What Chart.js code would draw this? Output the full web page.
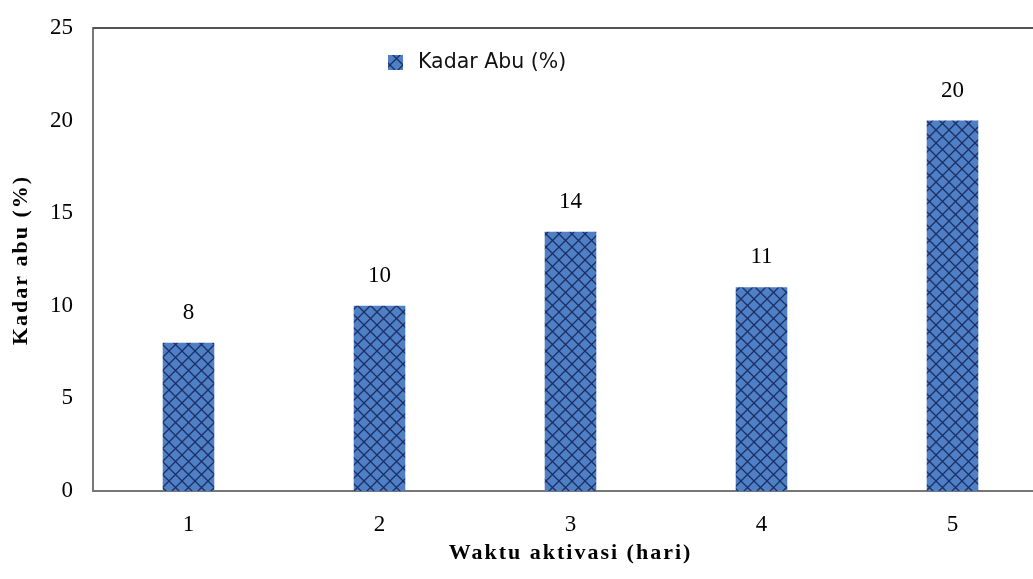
<!DOCTYPE html>
<html>
<head>
<meta charset="utf-8">
<script src="https://cdn.jsdelivr.net/npm/chart.js@4/dist/chart.umd.min.js"></script>
<style>
  html, body { margin: 0; padding: 0; background: #fff; overflow: hidden; }
  #wrap { width: 1050px; height: 579px; }
</style>
</head>
<body>
<div id="wrap"><canvas id="chart" width="1050" height="579"></canvas></div>
<script>
const days = ["1", "2", "3", "4", "5"];
const ashValues = [8, 10, 14, 11, 20];
const seriesName = "Kadar Abu (%)";
const xTitle = "Waktu aktivasi (hari)";
const yTitle = "Kadar abu (%)";

// crosshatch fill like the office pattern
function makeHatch() {
    const size = 13;
    const c = document.createElement("canvas");
    c.width = size;
    c.height = size;
    const g = c.getContext("2d");
    g.fillStyle = "#4f7fc4";
    g.fillRect(0, 0, size, size);
    g.strokeStyle = "#1b2f66";
    g.lineWidth = 1.3;
    g.beginPath();
    g.moveTo(0, 0); g.lineTo(size, size);
    g.moveTo(size, 0); g.lineTo(0, size);
    g.stroke();
    return g.createPattern(c, "repeat");
}
const hatch = makeHatch();

const extras = {
    id: "extras",
    afterDatasetsDraw(chart) {
        const ctx = chart.ctx;
        const area = chart.chartArea;
        ctx.save();
        // top frame line
        ctx.strokeStyle = "#555";
        ctx.lineWidth = 2;
        ctx.beginPath();
        ctx.moveTo(area.left, area.top);
        ctx.lineTo(area.right, area.top);
        ctx.stroke();
        // value labels
        ctx.fillStyle = "#000";
        ctx.font = "23px 'Liberation Serif'";
        ctx.textAlign = "center";
        ctx.textBaseline = "middle";
        chart.getDatasetMeta(0).data.forEach((bar, i) => {
            ctx.fillText(ashValues[i], bar.x, bar.y - 30);
        });
        // legend
        ctx.fillStyle = hatch;
        ctx.fillRect(388, 55, 15, 15);
        ctx.fillStyle = "#111";
        ctx.font = "20.5px 'DejaVu Sans'";
        ctx.textAlign = "left";
        ctx.fillText(seriesName, 418, 63);
        // axis titles
        ctx.fillStyle = "#000";
        ctx.font = "bold 22px 'Liberation Serif'";
        ctx.letterSpacing = "2px";
        ctx.textAlign = "center";
        ctx.fillText(xTitle, (area.left + area.right) / 2, 553);
        ctx.translate(21, 260);
        ctx.rotate(-Math.PI / 2);
        ctx.fillText(yTitle, 0, 0);
        ctx.restore();
    }
};

const tickFont = { family: "Liberation Serif", size: 23 };

new Chart(document.getElementById("chart"), {
    type: "bar",
    data: {
        labels: days,
        datasets: [{
            label: seriesName,
            data: ashValues,
            backgroundColor: hatch,
            barPercentage: 0.27,
            categoryPercentage: 1
        }]
    },
    options: {
        responsive: false,
        animation: false,
        layout: { padding: { top: 28, left: 0, right: 2, bottom: 0 } },
        plugins: {
            legend: { display: false },
            tooltip: { enabled: false }
        },
        scales: {
            x: {
                grid: { display: false, drawTicks: false },
                border: { display: true, color: "#777", width: 2 },
                ticks: { color: "#000", font: tickFont, padding: 20 },
                afterFit(scale) { scale.height = 88; }
            },
            y: {
                min: 0,
                max: 25,
                grid: { display: false, drawTicks: false },
                border: { display: true, color: "#777", width: 2 },
                ticks: {
                    stepSize: 5,
                    color: "#000",
                    font: { family: "Liberation Serif", size: 23, lineHeight: 0.3 },
                    padding: 20
                },
                afterFit(scale) { scale.width = 93; }
            }
        }
    },
    plugins: [extras]
});
</script>
</body>
</html>
